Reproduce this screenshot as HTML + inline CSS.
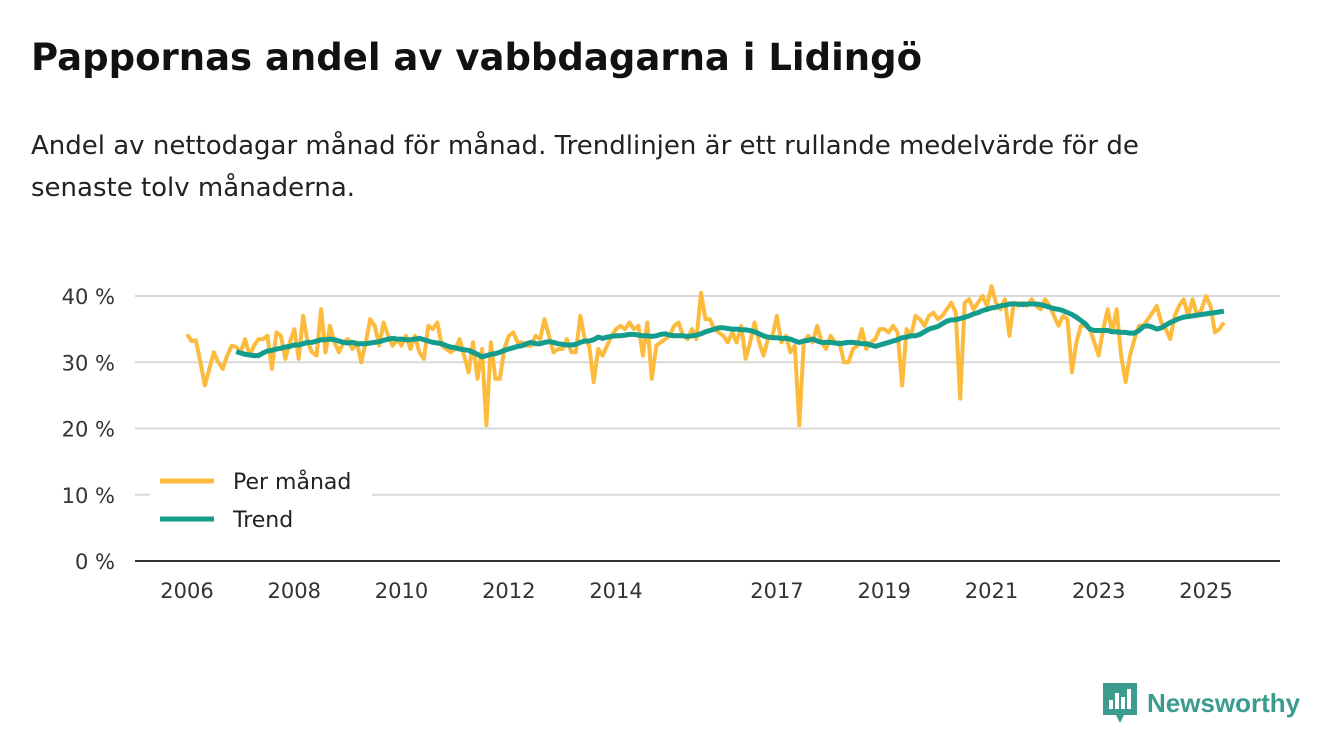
<!DOCTYPE html>
<html><head><meta charset="utf-8"><style>
body{margin:0;width:1340px;height:753px;background:#fff;font-family:"Liberation Sans","DejaVu Sans",sans-serif;overflow:hidden;position:relative}
h1{position:absolute;left:31px;top:36px;margin:0;font-family:"DejaVu Sans",sans-serif;font-size:37px;font-weight:bold;color:#111}
.sub{position:absolute;left:31px;top:125px;font-family:"DejaVu Sans",sans-serif;font-size:26px;line-height:42px;color:#222;width:1200px}
svg{position:absolute;left:0;top:0}
</style></head><body>
<h1>Pappornas andel av vabbdagarna i Lidingö</h1>
<div class="sub">Andel av nettodagar månad för månad. Trendlinjen är ett rullande medelvärde för de senaste tolv månaderna.</div>
<svg id="c" width="1340" height="753"></svg>
<div style="position:absolute;left:1103px;top:683px;display:flex;align-items:center">
<svg width="34" height="40" style="position:static"><path d="M0 0H34V32H21L17 40L13 32H0Z" fill="#3a9b8e"/><rect x="6" y="17" width="4" height="9" fill="#fff"/><rect x="12" y="10" width="4" height="16" fill="#fff"/><rect x="18" y="14" width="4" height="12" fill="#fff"/><rect x="24" y="6" width="4" height="20" fill="#fff"/></svg>
<span style="margin-left:10px;font-size:26px;font-weight:bold;color:#3a9b8e">Newsworthy</span></div>
<script>
const monthly=[34.2,33.2,33.3,30,26.5,29,31.5,30,29,31,32.5,32.3,
31.5,33.5,31,32.5,33.5,33.5,34,29,34.5,34,30.5,33,
35,30.5,37,33,31.5,31,38,31.5,35.5,33,31.5,33,
33.5,32,33,30,33,36.5,35.5,32.5,36,34,32.5,33.5,
32.5,34,32,34,31.5,30.5,35.5,35,36,32.5,32,31.5,
32,33.5,31,28.5,33,27.5,32,20.5,33,27.5,27.5,32,
34,34.5,33,33,32.5,32.5,34,33.5,36.5,34,31.5,32,
32,33.5,31.5,31.5,37,33.5,32.5,27,32,31,32.5,34,
35,35.5,35,36,35,35.5,31,36,27.5,32.5,33,33.5,
34,35.5,36,34,33.5,35,33.5,40.5,36.5,36.5,35,34.5,
34,33,34.5,33,35.5,30.5,33,36,33,31,33.5,34,
37,33,34,31.5,32.5,20.5,33,34,33,35.5,33,32,
34,33,33,30,30,32,32.5,35,32,33,33.5,35,
35,34.5,35.5,34.5,26.5,35,34,37,36.5,35.5,37,37.5,
36.5,37,38,39,37.5,24.5,39,39.5,38,39,40,38.5,
41.5,39,38,39.5,34,39,38.5,39,38.5,39.5,38.5,38,
39.5,38.5,37,35.5,37,36.5,28.5,33,35.5,35.5,35,33,
31,35,38,34.5,38,31,27,31,33.5,35.5,35.5,36.5,
37.5,38.5,36,35,33.5,37,38.5,39.5,37,39.5,37,38,
40,38.5,34.5,35,36];
const trendStart=11;
const trend=[31.6,
31.4,31.2,31.1,31.0,31.0,31.4,31.7,31.8,32.0,32.1,32.3,32.4,
32.6,32.6,32.8,33.0,33.0,33.2,33.4,33.4,33.5,33.4,33.2,33.0,
32.9,33.0,32.8,32.8,32.8,32.9,33.0,33.1,33.3,33.5,33.6,33.5,
33.5,33.4,33.4,33.5,33.6,33.4,33.2,33.0,32.9,32.8,32.5,32.3,
32.2,32.0,31.9,31.8,31.5,31.2,30.8,31.0,31.2,31.3,31.5,31.8,
32.0,32.2,32.4,32.5,32.8,33.0,32.8,32.8,33.0,33.1,33.0,32.8,
32.7,32.6,32.6,32.7,33.0,33.2,33.2,33.4,33.8,33.6,33.8,33.9,
34.0,34.0,34.1,34.2,34.2,34.1,34.0,34.0,33.9,34.0,34.2,34.3,
34.1,34.0,34.0,34.0,33.9,34.0,34.1,34.3,34.6,34.8,35.0,35.2,
35.2,35.1,35.0,35.0,34.9,34.9,34.8,34.6,34.3,34.0,33.8,33.7,
33.7,33.6,33.6,33.5,33.2,33.0,33.2,33.3,33.5,33.2,33.0,33.0,
33.0,32.9,32.8,32.9,33.0,33.0,32.9,32.8,32.8,32.6,32.4,32.6,
32.8,33.0,33.2,33.4,33.7,33.8,34.0,34.0,34.2,34.6,35.0,35.2,
35.4,35.8,36.2,36.4,36.4,36.6,36.8,37.0,37.3,37.5,37.8,38.0,
38.2,38.3,38.5,38.6,38.8,38.8,38.8,38.7,38.8,38.8,38.8,38.7,
38.5,38.3,38.1,38.0,37.8,37.5,37.2,36.8,36.3,35.8,35.0,34.8,
34.8,34.8,34.8,34.6,34.6,34.5,34.5,34.4,34.4,34.8,35.4,35.5,
35.3,35.0,35.2,35.6,36.0,36.3,36.6,36.8,36.9,37.0,37.1,37.2,
37.3,37.4,37.5,37.6,37.7];
const yTicks=[0,10,20,30,40];
const xYears=[2006,2008,2010,2012,2014,2017,2019,2021,2023,2025];
const NS="http://www.w3.org/2000/svg";
const svg=document.getElementById('c');
const X=i=>187+i*(1206-187)/228;
const Y=v=>561-v*6.625;
function mk(t,a,p){const e=document.createElementNS(NS,t);for(const k in a)e.setAttribute(k,a[k]);(p||svg).appendChild(e);return e;}
yTicks.forEach(v=>{
 if(v>0){const g=mk('line',{x1:135,x2:1280,y1:Y(v),y2:Y(v),stroke:'#d9d9d9','stroke-width':2});
 
 }
 const t=mk('text',{x:115,y:Y(v)+8,'text-anchor':'end','font-size':21,'font-family':'DejaVu Sans, sans-serif',fill:'#333'});t.textContent=v+' %';
 
 
});
const ax=mk('line',{x1:135,x2:1280,y1:561,y2:561,stroke:'#333','stroke-width':2});


xYears.forEach(yr=>{const x=X((yr-2006)*12);
 const t=mk('text',{x:x,y:598,'text-anchor':'middle','font-size':21,'font-family':'DejaVu Sans, sans-serif',fill:'#333'});t.textContent=yr;
 
 
});
const pm=mk('path',{d:'M'+monthly.map((v,i)=>X(i).toFixed(1)+','+Y(v).toFixed(1)).join('L'),fill:'none',stroke:'#fdbb3e','stroke-width':4,'stroke-linejoin':'round'});


const tr=mk('path',{d:'M'+trend.map((v,i)=>X(i+trendStart).toFixed(1)+','+Y(v).toFixed(1)).join('L'),fill:'none',stroke:'#149c8c','stroke-width':5,'stroke-linejoin':'round'});


const lb=mk('rect',{x:150,y:458,width:222,height:86,fill:'#fff'});


[['Per månad','#fdbb3e',481],['Trend','#149c8c',519]].forEach(([n,c,y])=>{
 const l=mk('line',{x1:160,x2:214,y1:y,y2:y,stroke:c,'stroke-width':5});
 
 
 const t=mk('text',{x:233,y:y+8,'font-size':22,'font-family':'DejaVu Sans, sans-serif',fill:'#222'});t.textContent=n;
 
 
});
</script>
</body></html>
